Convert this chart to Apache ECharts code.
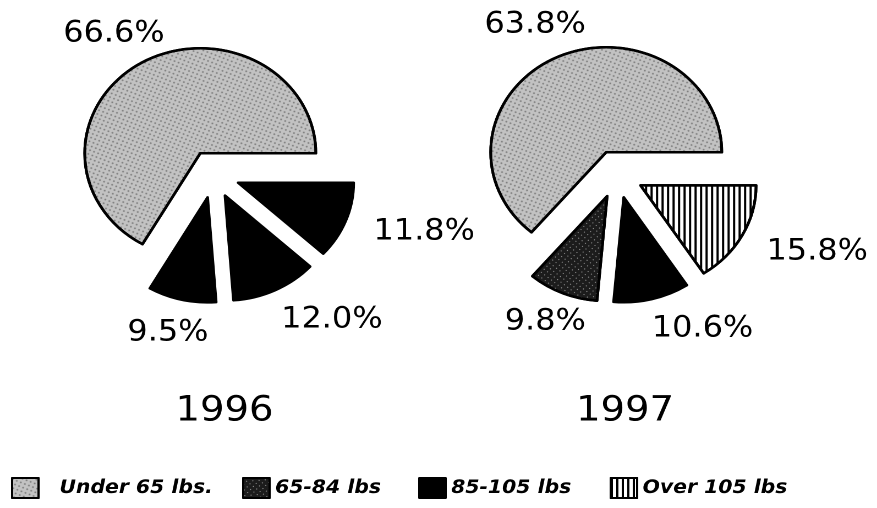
<!DOCTYPE html>
<html>
<head>
<meta charset="utf-8">
<script src="https://cdn.jsdelivr.net/npm/echarts/dist/echarts.min.js"></script>
<style>
  html, body { margin: 0; padding: 0; background: #fff; overflow: hidden; }
  #c { width: 797px; height: 508px; transform: scaleX(1.1004); transform-origin: 0 0; }
</style>
</head>
<body>
<div id="c"></div>
<script>
// ---- data ----
const categories = ['Under 65 lbs.', '65-84 lbs', '85-105 lbs', 'Over 105 lbs'];
const years = ['1996', '1997'];
const values1996 = [66.6, 9.5, 12.0, 11.8];
const values1997 = [63.8, 9.8, 10.6, 15.8];

// ---- styles (fill kind per slice, as drawn in the picture) ----
const fills1996 = ['stipple', 'black', 'black', 'black'];
const fills1997 = ['stipple', 'hatch', 'black', 'stripes'];

// ---- layout (pre-stretch coordinates) ----
const CY = 174, R = 105, OFFSET = 24;
const CX = [194, 561];
const labelDist = [[166.6, 164.3, 181.5, 200.1], [166.6, 161.8, 173.2, 197.7]];
const labelTurn = [[2.9, -1.7, 10.5, 4.4], [1.8, -1.2, 12.5, 5.2]];
const titleX = [199, 563];
const legendLeft = [10, 220, 380, 554];
const FONT = 'DejaVu Sans';

function styleFor(kind) {
  const base = { borderColor: '#000', borderWidth: 2.5 };
  if (kind === 'stipple') {
    return Object.assign(base, {
      color: '#c2c2c2',
      decal: { symbol: 'circle', symbolSize: 0.9, color: 'rgba(70,70,70,0.55)',
               dashArrayX: [2, 1.5], dashArrayY: [2, 1.5], rotation: 0.4 }
    });
  }
  if (kind === 'hatch') {
    return Object.assign(base, {
      color: '#1c1c1c',
      decal: { symbol: 'rect', symbolSize: 1, symbolKeepAspect: false,
               color: 'rgba(255,255,255,0.5)', dashArrayX: [1, 3], dashArrayY: [1, 3], rotation: 0.7 }
    });
  }
  if (kind === 'stripes') {
    return Object.assign(base, {
      color: '#ffffff',
      decal: { symbol: 'rect', symbolSize: 1, symbolKeepAspect: false,
               color: '#000', dashArrayX: [1.3, 2.2], dashArrayY: [1, 0], rotation: 0 }
    });
  }
  return Object.assign(base, { color: '#000' });
}

function midAngles(values) {
  const total = values.reduce((a, b) => a + b, 0);
  const mids = [];
  let acc = 0;
  values.forEach(v => { mids.push((acc + v / 2) / total * 360); acc += v; });
  return mids;
}

function buildSeries(k, values, fills) {
  return {
    name: years[k],
    type: 'pie',
    center: [CX[k], CY],
    radius: R,
    startAngle: 0,
    clockwise: false,
    selectedMode: 'multiple',
    selectedOffset: OFFSET,
    avoidLabelOverlap: false,
    animation: false,
    label: { show: false },
    labelLine: { show: false },
    emphasis: { disabled: true },
    select: { itemStyle: {} },
    data: values.map((v, i) => ({
      name: categories[i],
      value: v,
      selected: true,
      itemStyle: styleFor(fills[i])
    }))
  };
}

// percentage labels, placed along each slice's mid-angle
function buildLabels(k, values) {
  const mids = midAngles(values);
  return values.map((v, i) => {
    const a = (mids[i] + labelTurn[k][i]) * Math.PI / 180;
    return {
      type: 'text',
      x: CX[k] + labelDist[k][i] * Math.cos(a),
      y: CY - labelDist[k][i] * Math.sin(a),
      silent: true,
      style: {
        text: v.toFixed(1) + '%',
        fontFamily: FONT,
        fontSize: 29,
        fill: '#000',
        align: 'center',
        verticalAlign: 'middle'
      }
    };
  });
}

const legendText = { fontFamily: FONT, fontWeight: 'bold', fontStyle: 'italic', fontSize: 18.5, color: '#000' };

const chart = echarts.init(document.getElementById('c'), null, { renderer: 'canvas', devicePixelRatio: 2 });
chart.setOption({
  backgroundColor: '#fff',
  animation: false,
  title: years.map((y, k) => ({
    text: y,
    left: titleX[k],
    top: 389,
    textAlign: 'center',
    textStyle: { fontFamily: FONT, fontSize: 35, fontWeight: 'normal', color: '#000' }
  })),
  legend: categories.map((c, i) => ({
    data: [c],
    left: legendLeft[i],
    top: 477,
    padding: 0,
    icon: 'rect',
    itemWidth: 24,
    itemHeight: 20,
    selectedMode: false,
    textStyle: Object.assign({}, legendText, i === 0 ? { padding: [0, 0, 0, 14] } : {})
  })),
  graphic: buildLabels(0, values1996).concat(buildLabels(1, values1997)),
  series: [buildSeries(1, values1997, fills1997), buildSeries(0, values1996, fills1996)]
});
</script>
</body>
</html>
